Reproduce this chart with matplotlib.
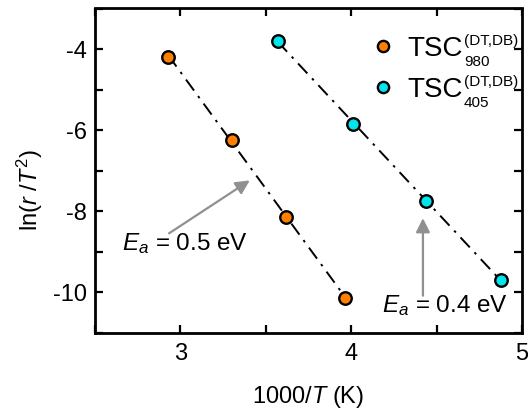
import numpy as np
import matplotlib
matplotlib.use("Agg")
import matplotlib.pyplot as plt
from matplotlib.ticker import MultipleLocator
from matplotlib.transforms import IdentityTransform

plt.rcParams['font.family'] = ['Liberation Sans', 'DejaVu Sans']
plt.rcParams['mathtext.fontset'] = 'custom'
plt.rcParams['mathtext.rm'] = 'Liberation Sans'
plt.rcParams['mathtext.it'] = 'Liberation Sans:italic'
plt.rcParams['axes.unicode_minus'] = False

x980 = [2.93, 3.30, 3.62, 3.965]
y980 = [-4.19, -6.24, -8.14, -10.13]
x405 = [3.57, 4.01, 4.44, 4.875]
y405 = [-3.79, -5.85, -7.74, -9.69]
label_main = 'TSC'
label_sup = '(DT,DB)'
label_subs = ['980', '405']
colors = ['#ff8000', '#00e5ee']

fig = plt.figure(figsize=(5.28, 4.11), dpi=100)
ax = fig.add_axes([95/528, 1-333/411, (522-95)/528, (333-8.5)/411])

for xs, ys, c in [(x980, y980, colors[0]), (x405, y405, colors[1])]:
    xs = np.array(xs); ys = np.array(ys)
    p = np.polyfit(xs, ys, 1)
    xf = np.array([xs.min(), xs.max()])
    ax.plot(xf, np.polyval(p, xf), color='black', lw=1.4, ls=(0, (7, 3.5, 1.3, 3.5)), zorder=2)
    ax.plot(xs, ys, 'o', ms=9, mfc=c, mec='black', mew=1.7, label=label_main, zorder=3, ls='none')

ax.annotate('', xy=(3.42, -7.2), xytext=(2.92, -8.58),
            arrowprops=dict(arrowstyle='-|>,head_length=0.6,head_width=0.3', color='#909090', lw=1.6, mutation_scale=14))
ax.text(2.66, -8.8, r'$E_a$ = 0.5 eV', fontsize=17.5, va='center', ha='left')
ax.annotate('', xy=(4.42, -8.1), xytext=(4.42, -10.15),
            arrowprops=dict(arrowstyle='-|>,head_length=0.6,head_width=0.3', color='#909090', lw=1.6, mutation_scale=14))
ax.text(4.18, -10.33, r'$E_a$ = 0.4 eV', fontsize=17.5, va='center', ha='left')

ax.set_xlim(2.5, 5)
ax.set_ylim(-11, -3)
ax.xaxis.set_major_locator(MultipleLocator(1))
ax.xaxis.set_minor_locator(MultipleLocator(0.5))
ax.yaxis.set_major_locator(MultipleLocator(2))
ax.yaxis.set_minor_locator(MultipleLocator(1))
ax.tick_params(which='both', direction='in', top=True, right=True, width=1.6, labelsize=17)
ax.tick_params(which='major', length=6)
ax.tick_params(which='minor', length=6)
ax.tick_params(axis='x', which='major', pad=7)
ax.tick_params(axis='y', which='major', pad=6)
for s in ax.spines.values():
    s.set_linewidth(2)

ax.set_xlabel(r'1000/$T$ (K)', fontsize=17)
ax.xaxis.set_label_coords(0.5, (333-383.5)/324.5)
ax.set_ylabel(r'ln($r$ /$T^2$)', fontsize=17)
ax.yaxis.set_label_coords((45-95)/427, (333-190)/324.5)

leg = ax.legend(loc='upper left', bbox_to_anchor=((362-95)/427, 0.936), frameon=False, fontsize=20,
                handletextpad=0.4, borderaxespad=0.0, labelspacing=0.54, handlelength=1.0,
                borderpad=0.25, markerscale=0.9)

fig.canvas.draw()
renderer = fig.canvas.get_renderer()
for t, sub in zip(leg.get_texts(), label_subs):
    bb = t.get_window_extent(renderer)
    fig.text(bb.x1 + 0.7, bb.y0 + 17.4, label_sup, fontsize=11, va='baseline', ha='left',
             transform=IdentityTransform())
    fig.text(bb.x1 + 0.7, bb.y0 - 4.2, sub, fontsize=11, va='baseline', ha='left',
             transform=IdentityTransform())

fig.savefig('out.png', dpi=100)
